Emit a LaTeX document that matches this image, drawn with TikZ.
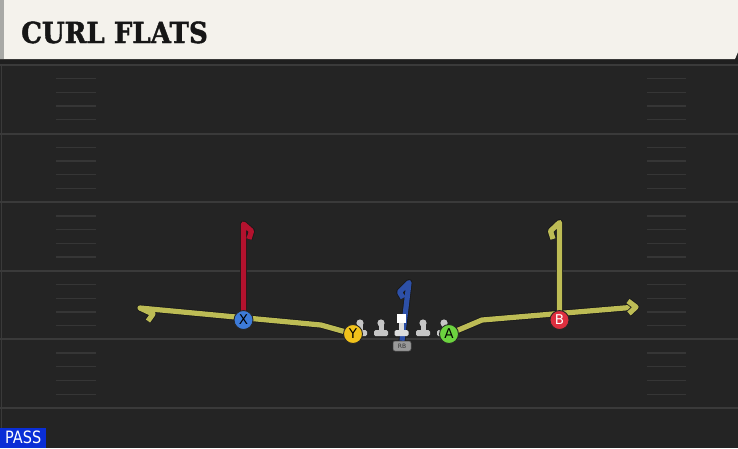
\documentclass[tikz,border=0pt]{standalone}
\usepackage{fontspec}
\setmainfont{DejaVu Sans}
\newfontfamily\titlefont[FakeBold=1.6]{DejaVu Serif Bold}
\pgfdeclarelayer{bgfield}
\pgfdeclarelayer{routes}
\pgfsetlayers{bgfield,routes,main}
\definecolor{field}{HTML}{242424}
\definecolor{yline}{HTML}{3A3A3A}
\definecolor{hashc}{HTML}{363636}
\definecolor{headerc}{HTML}{F4F2EC}
\definecolor{hstripe}{HTML}{A8A9A6}
\definecolor{titlec}{HTML}{161616}
\definecolor{rred}{HTML}{B3122E}
\definecolor{ryel}{HTML}{BDBC55}
\definecolor{rblue}{HTML}{2D50A8}
\definecolor{pblue}{HTML}{3D7BD9}
\definecolor{pyel}{HTML}{F1C21B}
\definecolor{pgreen}{HTML}{6CD33F}
\definecolor{pred}{HTML}{DD2F3F}
\definecolor{passblue}{HTML}{0A2ED6}
\definecolor{olgray}{HTML}{C6C6C6}
\tikzset{
  player/.style={circle, minimum size=19, inner sep=0, draw=black!85, line width=0.9,
    font=\fontsize{13.5}{13.5}\selectfont},
  route/.style={draw=#1, line width=5.2, line join=round, line cap=butt,
    preaction={draw=black!90, line width=6.8, line join=round, line cap=butt}},
  hash/.style={draw=hashc, line width=1.3},
  yardline/.style={draw=yline, line width=2},
  rbbox/.style={rounded corners=2, fill=black!40, draw=black!70, line width=0.5,
    minimum width=18, minimum height=10, inner sep=0,
    font=\fontsize{6}{6}\selectfont, text=black!80}
}
\begin{document}
\begin{tikzpicture}[x=1pt, y=-1pt]
\useasboundingbox (0,0) rectangle (738,448);
\begin{pgfonlayer}{bgfield}
  \fill[field] (0,0) rectangle (738,448);
  \fill[black!88] (0,58) rectangle (738,64);
  \foreach \yy in {65,133.6,202.2,270.8,339.4,408}
    \draw[yardline] (0,\yy) -- (738,\yy);
  \foreach \bb in {65,133.6,202.2,270.8,339.4}
    \foreach \k in {1,...,4} {
      \draw[hash] (56,{\bb+13.7*\k}) -- (96,{\bb+13.7*\k});
      \draw[hash] (647,{\bb+13.7*\k}) -- (686,{\bb+13.7*\k});
    }
  \draw[yline, line width=1] (1.5,64) -- (1.5,448);
  \fill[headerc] (0,0) -- (738,0) -- (738,52) -- (735,59) -- (0,59) -- cycle;
  \fill[hstripe] (0,0) rectangle (4,59);
\end{pgfonlayer}

\node[anchor=base west, inner sep=0, text=titlec] (title) at (21,43)
  {\scalebox{0.9}[1]{\titlefont\fontsize{29}{29}\selectfont CURL FLATS}};

\node[fill=passblue, anchor=south west, inner sep=0, minimum width=46, minimum height=20,
  text=white] (pass) at (0,448) {\scalebox{0.85}[1]{\fontsize{17}{17}\selectfont PASS}};

% linemen
\foreach \cx in {360,381,423,444} {
  \fill[olgray] (\cx,323) circle (3.6);
  \fill[olgray] (\cx-2.5,325) rectangle (\cx+2.5,331);
  \fill[olgray, rounded corners=1.5] (\cx-7,330) rectangle (\cx+7,336);
}
\fill[white] (397,314) rectangle (406,323);
\fill[olgray!60!white] (399,323) rectangle (404,331);
\fill[olgray!60!white, rounded corners=1.5] (394.5,330) rectangle (408.5,336);

\node[rbbox] (rb) at (402,346) {RB};

\node[player, fill=pblue] (X) at (243.5,320) {X};
\node[player, fill=pyel] (Y) at (353,334) {Y};
\node[player, fill=pgreen] (A) at (449,334) {A};
\node[player, fill=pred, text=white] (B) at (559.5,320) {B};

\coordinate (xtop) at (243.5,224);
\coordinate (xc1) at (251.5,231);
\coordinate (xc2) at (249,239);
\coordinate (yb) at (321,325);
\coordinate (ytip) at (140,308);
\coordinate (yc1) at (153,314);
\coordinate (yc2) at (148,321);
\coordinate (ab) at (482,320);
\coordinate (atip) at (636,307);
\coordinate (ah1) at (628,301);
\coordinate (ah2) at (629,313.5);
\coordinate (btop) at (559.5,222.5);
\coordinate (bc1) at (550.5,231);
\coordinate (bc2) at (553,239);
\coordinate (rtop) at (409,282.5);
\coordinate (rc1) at (399.5,292);
\coordinate (rc2) at (403,298);

\begin{pgfonlayer}{routes}
  \draw[route=rred] (X.center) -- (xtop) -- (xc1) -- (xc2);
  \draw[route=ryel] (Y.center) -- (yb) -- (ytip) -- (yc1) -- (yc2);
  \draw[route=ryel] (A.center) -- (ab) -- (atip);
  \draw[route=ryel] (ah1) -- (atip) -- (ah2);
  \draw[route=ryel] (B.center) -- (btop) -- (bc1) -- (bc2);
  \draw[route=rblue] (rb.north) -- (rtop) -- (rc1) -- (rc2);
\end{pgfonlayer}
\end{tikzpicture}
\end{document}
